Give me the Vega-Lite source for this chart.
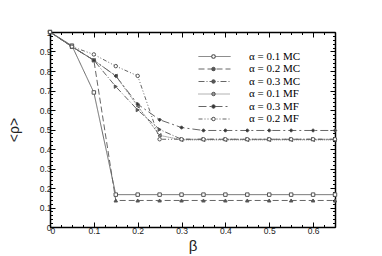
{
  "$schema": "https://vega.github.io/schema/vega-lite/v6.json",
  "width": 285,
  "height": 195,
  "autosize": "none",
  "padding": {"left": 50, "top": 32, "right": 47, "bottom": 29},
  "background": "white",
  "config": {
    "view": {"stroke": null},
    "axis": {"labelFont": "Liberation Sans", "labelFontSize": 8.5, "labelColor": "#222", "titleFont": "Liberation Sans", "titleFontWeight": "normal", "titleColor": "#222", "domainColor": "#000", "domainWidth": 1.5, "tickColor": "#000", "grid": false}
  },
  "data": {"values": [
    {"b":0,"r":1,"s":"α = 0.1 MC"},{"b":0.05,"r":0.93,"s":"α = 0.1 MC"},{"b":0.1,"r":0.69,"s":"α = 0.1 MC"},{"b":0.15,"r":0.166,"s":"α = 0.1 MC"},{"b":0.2,"r":0.166,"s":"α = 0.1 MC"},{"b":0.25,"r":0.166,"s":"α = 0.1 MC"},{"b":0.3,"r":0.166,"s":"α = 0.1 MC"},{"b":0.35,"r":0.166,"s":"α = 0.1 MC"},{"b":0.4,"r":0.166,"s":"α = 0.1 MC"},{"b":0.45,"r":0.166,"s":"α = 0.1 MC"},{"b":0.5,"r":0.166,"s":"α = 0.1 MC"},{"b":0.55,"r":0.166,"s":"α = 0.1 MC"},{"b":0.6,"r":0.166,"s":"α = 0.1 MC"},{"b":0.65,"r":0.166,"s":"α = 0.1 MC"},
    {"b":0,"r":1,"s":"α = 0.2 MC"},{"b":0.05,"r":0.925,"s":"α = 0.2 MC"},{"b":0.1,"r":0.855,"s":"α = 0.2 MC"},{"b":0.15,"r":0.136,"s":"α = 0.2 MC"},{"b":0.2,"r":0.136,"s":"α = 0.2 MC"},{"b":0.25,"r":0.136,"s":"α = 0.2 MC"},{"b":0.3,"r":0.136,"s":"α = 0.2 MC"},{"b":0.35,"r":0.136,"s":"α = 0.2 MC"},{"b":0.4,"r":0.136,"s":"α = 0.2 MC"},{"b":0.45,"r":0.136,"s":"α = 0.2 MC"},{"b":0.5,"r":0.136,"s":"α = 0.2 MC"},{"b":0.55,"r":0.136,"s":"α = 0.2 MC"},{"b":0.6,"r":0.136,"s":"α = 0.2 MC"},{"b":0.65,"r":0.136,"s":"α = 0.2 MC"},
    {"b":0,"r":1,"s":"α = 0.3 MC"},{"b":0.05,"r":0.925,"s":"α = 0.3 MC"},{"b":0.1,"r":0.855,"s":"α = 0.3 MC"},{"b":0.15,"r":0.72,"s":"α = 0.3 MC"},{"b":0.2,"r":0.6,"s":"α = 0.3 MC"},{"b":0.25,"r":0.5,"s":"α = 0.3 MC"},{"b":0.3,"r":0.45,"s":"α = 0.3 MC"},{"b":0.35,"r":0.45,"s":"α = 0.3 MC"},{"b":0.4,"r":0.45,"s":"α = 0.3 MC"},{"b":0.45,"r":0.45,"s":"α = 0.3 MC"},{"b":0.5,"r":0.45,"s":"α = 0.3 MC"},{"b":0.55,"r":0.45,"s":"α = 0.3 MC"},{"b":0.6,"r":0.45,"s":"α = 0.3 MC"},{"b":0.65,"r":0.45,"s":"α = 0.3 MC"},
    {"b":0,"r":1,"s":"α = 0.1 MF"},{"b":0.05,"r":0.925,"s":"α = 0.1 MF"},{"b":0.1,"r":0.855,"s":"α = 0.1 MF"},{"b":0.15,"r":0.775,"s":"α = 0.1 MF"},{"b":0.2,"r":0.62,"s":"α = 0.1 MF"},{"b":0.25,"r":0.47,"s":"α = 0.1 MF"},{"b":0.3,"r":0.447,"s":"α = 0.1 MF"},{"b":0.35,"r":0.447,"s":"α = 0.1 MF"},{"b":0.4,"r":0.447,"s":"α = 0.1 MF"},{"b":0.45,"r":0.447,"s":"α = 0.1 MF"},{"b":0.5,"r":0.447,"s":"α = 0.1 MF"},{"b":0.55,"r":0.447,"s":"α = 0.1 MF"},{"b":0.6,"r":0.447,"s":"α = 0.1 MF"},{"b":0.65,"r":0.447,"s":"α = 0.1 MF"},
    {"b":0,"r":1,"s":"α = 0.3 MF"},{"b":0.05,"r":0.925,"s":"α = 0.3 MF"},{"b":0.1,"r":0.855,"s":"α = 0.3 MF"},{"b":0.15,"r":0.775,"s":"α = 0.3 MF"},{"b":0.2,"r":0.63,"s":"α = 0.3 MF"},{"b":0.25,"r":0.55,"s":"α = 0.3 MF"},{"b":0.3,"r":0.51,"s":"α = 0.3 MF"},{"b":0.35,"r":0.495,"s":"α = 0.3 MF"},{"b":0.4,"r":0.495,"s":"α = 0.3 MF"},{"b":0.45,"r":0.495,"s":"α = 0.3 MF"},{"b":0.5,"r":0.495,"s":"α = 0.3 MF"},{"b":0.55,"r":0.495,"s":"α = 0.3 MF"},{"b":0.6,"r":0.495,"s":"α = 0.3 MF"},{"b":0.65,"r":0.495,"s":"α = 0.3 MF"},
    {"b":0,"r":1,"s":"α = 0.2 MF"},{"b":0.05,"r":0.925,"s":"α = 0.2 MF"},{"b":0.1,"r":0.885,"s":"α = 0.2 MF"},{"b":0.15,"r":0.825,"s":"α = 0.2 MF"},{"b":0.2,"r":0.775,"s":"α = 0.2 MF"},{"b":0.25,"r":0.45,"s":"α = 0.2 MF"},{"b":0.3,"r":0.45,"s":"α = 0.2 MF"},{"b":0.35,"r":0.45,"s":"α = 0.2 MF"},{"b":0.4,"r":0.45,"s":"α = 0.2 MF"},{"b":0.45,"r":0.45,"s":"α = 0.2 MF"},{"b":0.5,"r":0.45,"s":"α = 0.2 MF"},{"b":0.55,"r":0.45,"s":"α = 0.2 MF"},{"b":0.6,"r":0.45,"s":"α = 0.2 MF"},{"b":0.65,"r":0.45,"s":"α = 0.2 MF"}
  ]},
  "resolve": {"axis": {"x": "independent", "y": "independent"}},
  "layer": [
    {
      "mark": {"type": "line", "strokeWidth": 1, "color": "#666"},
      "encoding": {
        "x": {"field": "b", "type": "quantitative", "scale": {"domain": [0, 0.65], "nice": false}, "axis": {"orient": "bottom", "title": "β", "titleFontSize": 15, "titlePadding": 4, "values": [0,0.1,0.2,0.3,0.4,0.5,0.6], "labelExpr": "'' + datum.value", "tickSize": -5, "labelPadding": 4, "domain": true}},
        "y": {"field": "r", "type": "quantitative", "scale": {"domain": [0, 1], "nice": false}, "axis": {"orient": "left", "title": "<ρ>", "titleFontSize": 14, "titlePadding": 18, "values": [0,0.1,0.2,0.3,0.4,0.5,0.6,0.7,0.8,0.9,1], "labelExpr": "'' + datum.value", "tickSize": -5, "labelPadding": 4, "domain": true}},
        "detail": {"field": "s"},
        "strokeDash": {"field": "s", "type": "nominal", "scale": {"domain": ["α = 0.1 MC","α = 0.2 MC","α = 0.3 MC","α = 0.1 MF","α = 0.3 MF","α = 0.2 MF"], "range": [[1,0],[6,3],[6,2,1,2],[1,1],[8,3,2,3],[4,2,1,2,1,2]]},
          "legend": {"orient": "none", "legendX": 159, "legendY": 19, "title": null, "symbolType": "M-16,0H16", "symbolSize": 4, "symbolFillColor": "transparent", "symbolStrokeColor": "#666", "symbolStrokeWidth": 1, "labelFont": "Liberation Serif", "labelFontSize": 11, "labelColor": "#000", "labelOffset": 29, "rowPadding": 0.5, "padding": 0}}
      }
    },
    {
      "mark": {"type": "point", "size": 12, "strokeWidth": 1, "stroke": "#555", "opacity": 1},
      "encoding": {
        "x": {"field": "b", "type": "quantitative", "axis": {"orient": "bottom", "title": null, "labels": false, "domain": false, "values": [0.025,0.05,0.075,0.125,0.15,0.175,0.225,0.25,0.275,0.325,0.35,0.375,0.425,0.45,0.475,0.525,0.55,0.575,0.625,0.65], "tickSize": -2.5}},
        "y": {"field": "r", "type": "quantitative", "axis": {"orient": "left", "title": null, "labels": false, "domain": false, "values": [0.02,0.04,0.06,0.08,0.12,0.14,0.16,0.18,0.22,0.24,0.26,0.28,0.32,0.34,0.36,0.38,0.42,0.44,0.46,0.48,0.52,0.54,0.56,0.58,0.62,0.64,0.66,0.68,0.72,0.74,0.76,0.78,0.82,0.84,0.86,0.88,0.92,0.94,0.96,0.98], "tickSize": -2.5}},
        "shape": {"field": "s", "type": "nominal", "sort": ["α = 0.1 MC","α = 0.2 MC","α = 0.3 MC","α = 0.1 MF","α = 0.3 MF","α = 0.2 MF"], "scale": {"range": ["square","triangle-up","triangle-right","triangle-left","diamond","circle"]},
          "legend": {"orient": "none", "legendX": 158, "legendY": 19, "title": null, "symbolSize": 12, "symbolStrokeColor": "#555", "symbolStrokeWidth": 1, "labelFont": "Liberation Serif", "labelFontSize": 11, "labelExpr": "''", "labelOffset": 16, "rowPadding": 0.5, "padding": 0}},
        "fill": {"field": "s", "type": "nominal", "sort": ["α = 0.1 MC","α = 0.2 MC","α = 0.3 MC","α = 0.1 MF","α = 0.3 MF","α = 0.2 MF"], "scale": {"range": ["white","#555","#555","#999","#333","white"]},
          "legend": {"orient": "none", "legendX": 158, "legendY": 19, "title": null, "symbolSize": 12, "symbolStrokeColor": "#555", "symbolStrokeWidth": 1, "labelFont": "Liberation Serif", "labelFontSize": 11, "labelExpr": "''", "labelOffset": 16, "rowPadding": 0.5, "padding": 0}}
      }
    },
    {
      "mark": {"type": "point", "opacity": 0},
      "encoding": {
        "x": {"field": "b", "type": "quantitative", "axis": {"orient": "top", "title": null, "labels": false, "domain": true, "values": [0,0.1,0.2,0.3,0.4,0.5,0.6], "tickSize": -5}},
        "y": {"field": "r", "type": "quantitative", "axis": {"orient": "right", "title": null, "labels": false, "domain": true, "values": [0,0.1,0.2,0.3,0.4,0.5,0.6,0.7,0.8,0.9,1], "tickSize": -5}}
      }
    },
    {
      "mark": {"type": "point", "opacity": 0},
      "encoding": {
        "x": {"field": "b", "type": "quantitative", "axis": {"orient": "top", "title": null, "labels": false, "domain": false, "values": [0.025,0.05,0.075,0.125,0.15,0.175,0.225,0.25,0.275,0.325,0.35,0.375,0.425,0.45,0.475,0.525,0.55,0.575,0.625,0.65], "tickSize": -2.5}},
        "y": {"field": "r", "type": "quantitative", "axis": {"orient": "right", "title": null, "labels": false, "domain": false, "values": [0.02,0.04,0.06,0.08,0.12,0.14,0.16,0.18,0.22,0.24,0.26,0.28,0.32,0.34,0.36,0.38,0.42,0.44,0.46,0.48,0.52,0.54,0.56,0.58,0.62,0.64,0.66,0.68,0.72,0.74,0.76,0.78,0.82,0.84,0.86,0.88,0.92,0.94,0.96,0.98], "tickSize": -2.5}}
      }
    }
  ]
}
